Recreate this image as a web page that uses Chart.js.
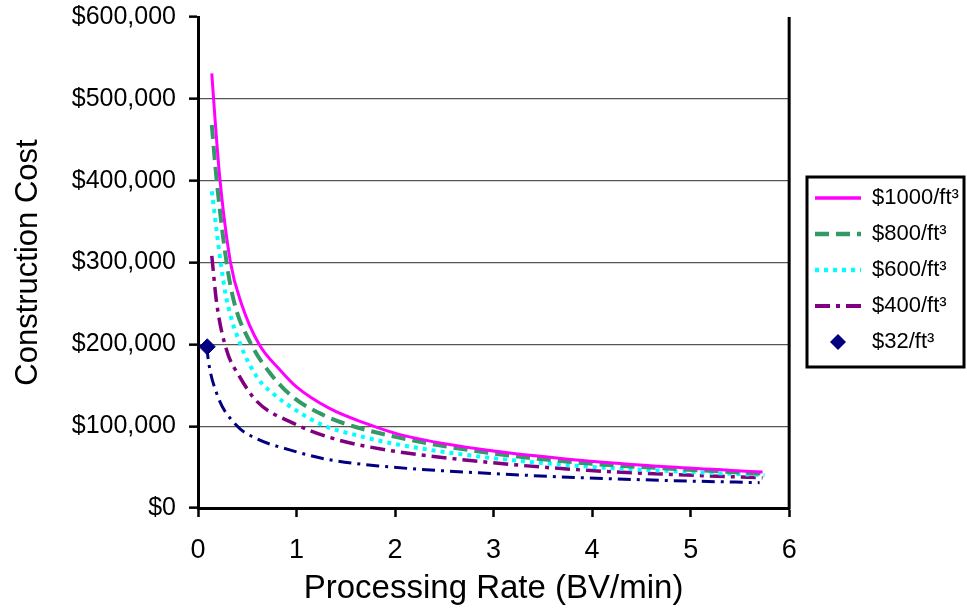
<!DOCTYPE html>
<html>
<head>
<meta charset="utf-8">
<script src="https://cdn.jsdelivr.net/npm/chart.js@4.4.1/dist/chart.umd.min.js"></script>
<style>
  html, body { margin: 0; padding: 0; background: #fff; }
</style>
</head>
<body>
<canvas id="chart" width="967" height="609"></canvas>
<script>
// values (x = BV/min, y = dollars)
const rate1000 = [0.14, 0.17, 0.22, 0.33, 0.44, 0.62, 0.83, 1.0, 1.33, 1.71, 2.04, 2.85, 3.9, 4.8, 5.73];
const cost1000 = [531000, 480000, 405000, 300000, 250000, 200000, 169000, 148000, 122000, 103000, 90000, 72000, 58000, 50000, 44000];

const rate800 = [0.14, 0.19, 0.29, 0.37, 0.54, 0.73, 0.96, 1.3, 1.6, 2.04, 2.85, 3.9, 4.8, 5.73];
const cost800 = [468000, 400000, 300000, 250000, 200000, 165000, 136000, 112000, 99000, 86000, 69000, 55000, 48000, 42000];

const rate600 = [0.14, 0.23, 0.29, 0.43, 0.61, 0.76, 1.0, 1.27, 1.64, 2.01, 2.85, 3.9, 4.8, 5.75];
const cost600 = [387000, 300000, 255000, 200000, 158000, 140000, 119000, 101000, 88000, 78000, 63000, 51000, 45000, 40000];

const rate400 = [0.14, 0.19, 0.29, 0.42, 0.6, 0.96, 1.37, 1.91, 2.85, 3.95, 4.8, 5.73];
const cost400 = [308000, 250000, 193000, 161000, 130000, 104000, 85000, 71000, 57000, 46000, 41000, 37000];

const rate32 = [0.09, 0.1, 0.19, 0.39, 0.59, 0.93, 1.33, 1.87, 2.85, 3.9, 4.8, 5.7];
const cost32 = [198000, 185000, 140000, 101000, 85000, 71000, 59000, 51000, 43000, 37000, 33500, 31000];

const pointRate32 = [0.094];
const pointCost32 = [197000];

const seriesLabels = ["$1000/ft³", "$800/ft³", "$600/ft³", "$400/ft³", "$32/ft³"];
const seriesColors = ["#FF00FF", "#339966", "#00FFFF", "#800080", "#000080"];

const FONT = "Liberation Sans, Arial, sans-serif";

function toPoints(xs, ys) {
  return xs.map((x, i) => ({ x: x, y: ys[i] }));
}

function curve(label, xs, ys, color, dash, width) {
  return {
    label: label,
    data: toPoints(xs, ys),
    borderColor: color,
    backgroundColor: color,
    borderWidth: width,
    borderDash: dash,
    pointRadius: 0,
    fill: false,
    cubicInterpolationMode: "monotone",
  };
}

// small diamond used as the legend sample of the $32 series
const diamond = document.createElement("canvas");
diamond.width = 18;
diamond.height = 18;
const dctx = diamond.getContext("2d");
dctx.fillStyle = seriesColors[4];
dctx.beginPath();
dctx.moveTo(9, 1);
dctx.lineTo(17, 9);
dctx.lineTo(9, 17);
dctx.lineTo(1, 9);
dctx.closePath();
dctx.fill();

const frame = {
  id: "frame",
  afterLayout(chart) {
    // park the legend where the reference has it
    const legend = chart.legend;
    const pad = legend.options.labels.padding;
    const w = legend.width;
    const h = legend.height;
    legend.left = 815 - pad;
    legend.right = legend.left + w;
    legend.top = 187 - pad;
    legend.bottom = legend.top + h;
  },
  afterDraw(chart) {
    const { ctx, chartArea } = chart;
    ctx.save();
    ctx.strokeStyle = "#000";
    ctx.lineWidth = 3;
    ctx.beginPath();
    ctx.moveTo(chartArea.right, chartArea.top);
    ctx.lineTo(chartArea.right, chartArea.bottom + 1.5);
    ctx.stroke();

    const boxes = chart.legend.legendHitBoxes;
    if (boxes && boxes.length) {
      const top = boxes[0].top - 10;
      const last = boxes[boxes.length - 1];
      const bottom = last.top + last.height + 14;
      const left = boxes[0].left - 8;
      const right = 964;
      ctx.strokeRect(left, top, right - left, bottom - top);
    }
    ctx.restore();
  },
};

const chart = new Chart(document.getElementById("chart"), {
  type: "line",
  data: {
    datasets: [
      curve(seriesLabels[0], rate1000, cost1000, seriesColors[0], [], 3),
      curve(seriesLabels[1], rate800, cost800, seriesColors[1], [14, 7], 4),
      curve(seriesLabels[2], rate600, cost600, seriesColors[2], [4, 5], 4),
      curve(seriesLabels[3], rate400, cost400, seriesColors[3], [15, 6, 4, 6], 3.5),
      {
        label: seriesLabels[4],
        data: toPoints(pointRate32, pointCost32),
        showLine: false,
        pointStyle: "rectRot",
        pointRadius: 8,
        pointBackgroundColor: seriesColors[4],
        pointBorderColor: seriesColors[4],
        borderColor: seriesColors[4],
        backgroundColor: seriesColors[4],
      },
      curve("", rate32, cost32, seriesColors[4], [13, 6, 3, 6], 3),
    ],
  },
  options: {
    responsive: false,
    animation: false,
    layout: { padding: { top: 17, left: 0, right: 10, bottom: 0 } },
    plugins: {
      tooltip: { enabled: false },
      legend: {
        position: "right",
        align: "start",
        maxWidth: 168,
        labels: {
          usePointStyle: true,
          pointStyleWidth: 46,
          padding: 14,
          color: "#000",
          font: { family: FONT, size: 22 },
          generateLabels(chart) {
            const items = Chart.defaults.plugins.legend.labels.generateLabels(chart);
            return items
              .filter((item) => item.text)
              .map((item) => {
                const ds = chart.data.datasets[item.datasetIndex];
                if (item.datasetIndex === 4) {
                  item.pointStyle = diamond;
                  item.lineWidth = 0;
                } else {
                  item.pointStyle = "line";
                  item.lineCap = "butt";
                  item.lineWidth = ds.borderWidth + 0.5;
                  item.lineDash = ds.borderDash;
                  item.strokeStyle = ds.borderColor;
                }
                return item;
              });
          },
        },
      },
    },
    scales: {
      x: {
        type: "linear",
        min: 0,
        max: 6,
        border: { color: "#000", width: 3 },
        grid: { drawOnChartArea: false, tickLength: 9, tickColor: "#000", tickWidth: 2.5 },
        ticks: {
          stepSize: 1,
          padding: 17,
          color: "#000",
          font: { family: FONT, size: 27 },
        },
        title: {
          display: true,
          text: "Processing Rate (BV/min)",
          color: "#000",
          font: { family: FONT, size: 33 },
          padding: { top: 0, bottom: 0 },
        },
        afterFit(scale) {
          scale.height = 101;
        },
      },
      y: {
        min: 0,
        max: 600000,
        border: { color: "#000", width: 3 },
        grid: {
          color: (ctx) => (ctx.tick && ctx.tick.value === 600000 ? "rgba(0,0,0,0)" : "#555"),
          lineWidth: 1.3,
          tickLength: 9,
          tickColor: "#000",
          tickWidth: 2.5,
        },
        ticks: {
          stepSize: 100000,
          padding: 13,
          color: "#000",
          font: { family: FONT, size: 25, lineHeight: 0.3 },
          callback: (value) => "$" + value.toLocaleString("en-US"),
        },
        title: {
          display: true,
          text: "Construction Cost",
          color: "#000",
          font: { family: FONT, size: 31 },
          padding: { top: 10, bottom: 0 },
        },
        afterFit(scale) {
          scale.width = 198;
        },
      },
    },
  },
  plugins: [frame],
});
</script>
</body>
</html>
